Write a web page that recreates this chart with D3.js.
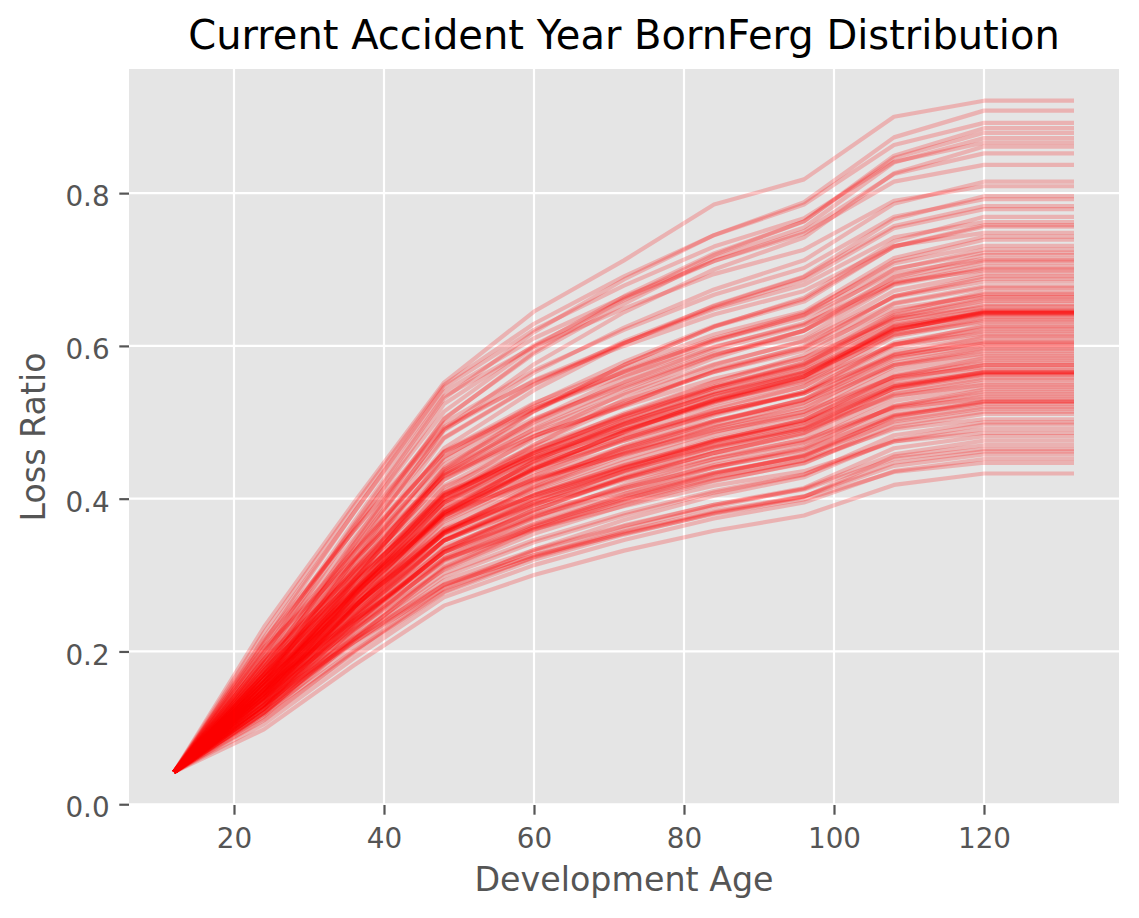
<!DOCTYPE html>
<html>
<head>
<meta charset="utf-8">
<script src="https://cdn.jsdelivr.net/npm/d3@7"></script>
<style>
  body { margin: 0; background: #fff; }
  svg { display: block; font-family: "DejaVu Sans", sans-serif; }
</style>
</head>
<body>
<div id="chart"></div>
<script>
// development ages (months) and the common starting loss ratio
const ages = [12, 24, 36, 48, 60, 72, 84, 96, 108, 120, 132];
const startRatio = 0.042;

// simulated loss ratio paths, values at ages 24..132
const simPaths = [
    [0.232, 0.395, 0.552, 0.645, 0.712, 0.785, 0.818, 0.900, 0.921, 0.921],
    [0.195, 0.366, 0.531, 0.618, 0.687, 0.745, 0.788, 0.873, 0.908, 0.908],
    [0.225, 0.390, 0.549, 0.629, 0.691, 0.745, 0.785, 0.863, 0.892, 0.892],
    [0.170, 0.340, 0.504, 0.592, 0.662, 0.719, 0.763, 0.849, 0.885, 0.885],
    [0.205, 0.363, 0.514, 0.599, 0.665, 0.721, 0.763, 0.846, 0.879, 0.879],
    [0.212, 0.382, 0.546, 0.621, 0.679, 0.730, 0.767, 0.841, 0.866, 0.866],
    [0.160, 0.329, 0.491, 0.576, 0.644, 0.700, 0.742, 0.826, 0.861, 0.861],
    [0.190, 0.360, 0.524, 0.601, 0.660, 0.711, 0.750, 0.825, 0.852, 0.852],
    [0.218, 0.382, 0.540, 0.610, 0.664, 0.711, 0.747, 0.815, 0.837, 0.837],
    [0.175, 0.335, 0.489, 0.565, 0.624, 0.674, 0.712, 0.786, 0.815, 0.815],
    [0.200, 0.370, 0.534, 0.599, 0.649, 0.694, 0.726, 0.790, 0.809, 0.809],
    [0.165, 0.319, 0.466, 0.542, 0.603, 0.653, 0.691, 0.766, 0.796, 0.796],
    [0.210, 0.358, 0.499, 0.568, 0.621, 0.667, 0.702, 0.769, 0.792, 0.792],
    [0.155, 0.320, 0.479, 0.549, 0.604, 0.650, 0.686, 0.754, 0.779, 0.779],
    [0.140, 0.292, 0.438, 0.514, 0.575, 0.625, 0.663, 0.737, 0.769, 0.769],
    [0.198, 0.348, 0.491, 0.555, 0.604, 0.648, 0.680, 0.742, 0.762, 0.762],
    [0.170, 0.315, 0.454, 0.524, 0.579, 0.626, 0.661, 0.730, 0.756, 0.756],
    [0.215, 0.358, 0.494, 0.554, 0.600, 0.641, 0.672, 0.731, 0.748, 0.748],
    [0.150, 0.294, 0.432, 0.503, 0.559, 0.606, 0.641, 0.711, 0.739, 0.739],
    [0.185, 0.321, 0.450, 0.515, 0.567, 0.610, 0.643, 0.708, 0.731, 0.731],
    [0.160, 0.311, 0.455, 0.518, 0.566, 0.608, 0.640, 0.701, 0.722, 0.722],
    [0.130, 0.273, 0.410, 0.481, 0.538, 0.584, 0.620, 0.690, 0.719, 0.719],
    [0.200, 0.333, 0.461, 0.521, 0.566, 0.607, 0.637, 0.695, 0.714, 0.714],
    [0.165, 0.298, 0.425, 0.491, 0.543, 0.587, 0.620, 0.684, 0.709, 0.709],
    [0.145, 0.292, 0.433, 0.496, 0.546, 0.588, 0.620, 0.681, 0.704, 0.704],
    [0.190, 0.329, 0.461, 0.518, 0.561, 0.599, 0.628, 0.683, 0.699, 0.699],
    [0.155, 0.283, 0.404, 0.471, 0.523, 0.567, 0.600, 0.665, 0.691, 0.691],
    [0.175, 0.306, 0.431, 0.490, 0.536, 0.576, 0.606, 0.664, 0.684, 0.684],
    [0.135, 0.279, 0.417, 0.478, 0.525, 0.566, 0.597, 0.656, 0.678, 0.678],
    [0.145, 0.267, 0.382, 0.449, 0.502, 0.545, 0.578, 0.643, 0.671, 0.671],
    [0.182, 0.309, 0.430, 0.486, 0.528, 0.566, 0.594, 0.649, 0.666, 0.666],
    [0.158, 0.281, 0.397, 0.458, 0.506, 0.547, 0.578, 0.638, 0.661, 0.661],
    [0.170, 0.290, 0.403, 0.462, 0.508, 0.547, 0.576, 0.634, 0.655, 0.655],
    [0.205, 0.320, 0.429, 0.482, 0.521, 0.557, 0.584, 0.635, 0.650, 0.650],
    [0.140, 0.262, 0.377, 0.439, 0.488, 0.529, 0.560, 0.620, 0.645, 0.645],
    [0.152, 0.277, 0.395, 0.453, 0.498, 0.537, 0.566, 0.622, 0.643, 0.643],
    [0.165, 0.288, 0.404, 0.460, 0.503, 0.540, 0.568, 0.622, 0.641, 0.641],
    [0.125, 0.257, 0.382, 0.441, 0.487, 0.526, 0.556, 0.614, 0.636, 0.636],
    [0.190, 0.302, 0.407, 0.460, 0.500, 0.536, 0.563, 0.615, 0.631, 0.631],
    [0.130, 0.247, 0.357, 0.419, 0.469, 0.509, 0.540, 0.601, 0.627, 0.627],
    [0.160, 0.275, 0.383, 0.439, 0.482, 0.519, 0.547, 0.602, 0.622, 0.622],
    [0.175, 0.294, 0.407, 0.456, 0.494, 0.528, 0.553, 0.602, 0.616, 0.616],
    [0.145, 0.254, 0.357, 0.416, 0.463, 0.501, 0.530, 0.588, 0.611, 0.611],
    [0.150, 0.269, 0.382, 0.435, 0.476, 0.511, 0.538, 0.589, 0.607, 0.607],
    [0.138, 0.257, 0.370, 0.424, 0.466, 0.502, 0.529, 0.582, 0.601, 0.601],
    [0.165, 0.265, 0.358, 0.413, 0.457, 0.493, 0.521, 0.575, 0.596, 0.596],
    [0.178, 0.283, 0.381, 0.430, 0.468, 0.502, 0.526, 0.575, 0.590, 0.590],
    [0.120, 0.230, 0.333, 0.391, 0.437, 0.475, 0.503, 0.560, 0.584, 0.584],
    [0.142, 0.252, 0.355, 0.407, 0.448, 0.483, 0.509, 0.560, 0.578, 0.578],
    [0.170, 0.277, 0.378, 0.424, 0.459, 0.490, 0.514, 0.559, 0.572, 0.572],
    [0.130, 0.234, 0.331, 0.385, 0.428, 0.464, 0.491, 0.544, 0.566, 0.566],
    [0.155, 0.259, 0.356, 0.405, 0.443, 0.476, 0.501, 0.549, 0.565, 0.565],
    [0.125, 0.239, 0.346, 0.396, 0.436, 0.469, 0.495, 0.544, 0.562, 0.562],
    [0.148, 0.244, 0.334, 0.385, 0.426, 0.460, 0.486, 0.537, 0.556, 0.556],
    [0.160, 0.260, 0.354, 0.400, 0.435, 0.467, 0.490, 0.535, 0.549, 0.549],
    [0.115, 0.215, 0.310, 0.363, 0.406, 0.441, 0.468, 0.521, 0.543, 0.543],
    [0.135, 0.236, 0.330, 0.379, 0.416, 0.448, 0.473, 0.520, 0.537, 0.537],
    [0.165, 0.261, 0.350, 0.393, 0.426, 0.455, 0.477, 0.519, 0.531, 0.531],
    [0.120, 0.217, 0.308, 0.359, 0.399, 0.432, 0.457, 0.507, 0.527, 0.527],
    [0.140, 0.238, 0.330, 0.376, 0.411, 0.441, 0.464, 0.509, 0.524, 0.524],
    [0.128, 0.227, 0.319, 0.365, 0.401, 0.433, 0.456, 0.501, 0.518, 0.518],
    [0.145, 0.229, 0.307, 0.354, 0.391, 0.423, 0.447, 0.493, 0.511, 0.511],
    [0.150, 0.241, 0.325, 0.367, 0.400, 0.428, 0.450, 0.491, 0.504, 0.504],
    [0.110, 0.200, 0.283, 0.333, 0.372, 0.404, 0.428, 0.477, 0.497, 0.497],
    [0.130, 0.219, 0.302, 0.346, 0.381, 0.410, 0.432, 0.475, 0.491, 0.491],
    [0.155, 0.241, 0.321, 0.360, 0.390, 0.417, 0.436, 0.475, 0.486, 0.486],
    [0.118, 0.201, 0.278, 0.324, 0.360, 0.390, 0.413, 0.458, 0.476, 0.476],
    [0.125, 0.212, 0.293, 0.333, 0.365, 0.392, 0.412, 0.452, 0.465, 0.465],
    [0.135, 0.212, 0.282, 0.323, 0.355, 0.382, 0.403, 0.443, 0.458, 0.458],
    [0.105, 0.191, 0.271, 0.313, 0.346, 0.374, 0.395, 0.436, 0.452, 0.452],
    [0.140, 0.217, 0.288, 0.326, 0.354, 0.380, 0.399, 0.435, 0.447, 0.447],
    [0.098, 0.182, 0.260, 0.300, 0.332, 0.358, 0.378, 0.418, 0.433, 0.433],
    [0.170, 0.307, 0.438, 0.502, 0.552, 0.595, 0.627, 0.689, 0.712, 0.712],
    [0.148, 0.278, 0.401, 0.463, 0.512, 0.553, 0.584, 0.645, 0.668, 0.668],
    [0.160, 0.287, 0.408, 0.464, 0.507, 0.545, 0.573, 0.628, 0.647, 0.647],
    [0.145, 0.273, 0.395, 0.453, 0.498, 0.536, 0.565, 0.621, 0.642, 0.642],
    [0.168, 0.276, 0.377, 0.439, 0.488, 0.528, 0.559, 0.620, 0.644, 0.644],
    [0.155, 0.275, 0.389, 0.440, 0.478, 0.513, 0.538, 0.587, 0.603, 0.603],
    [0.138, 0.245, 0.345, 0.398, 0.440, 0.476, 0.503, 0.555, 0.575, 0.575],
    [0.148, 0.255, 0.355, 0.404, 0.441, 0.474, 0.499, 0.547, 0.563, 0.563],
    [0.180, 0.318, 0.445, 0.505, 0.548, 0.590, 0.612, 0.680, 0.701, 0.701],
    [0.150, 0.280, 0.400, 0.470, 0.530, 0.575, 0.607, 0.672, 0.695, 0.695],
    [0.165, 0.300, 0.425, 0.482, 0.522, 0.570, 0.598, 0.665, 0.688, 0.688],
    [0.140, 0.272, 0.395, 0.460, 0.510, 0.552, 0.588, 0.655, 0.676, 0.676],
    [0.185, 0.305, 0.415, 0.468, 0.510, 0.545, 0.575, 0.640, 0.664, 0.664],
    [0.150, 0.270, 0.380, 0.450, 0.497, 0.540, 0.572, 0.637, 0.659, 0.659],
    [0.130, 0.262, 0.385, 0.448, 0.492, 0.533, 0.565, 0.630, 0.652, 0.652],
    [0.175, 0.295, 0.405, 0.455, 0.497, 0.530, 0.560, 0.626, 0.646, 0.646],
    [0.160, 0.280, 0.390, 0.446, 0.490, 0.527, 0.558, 0.624, 0.644, 0.644],
    [0.145, 0.268, 0.378, 0.440, 0.487, 0.530, 0.560, 0.625, 0.643, 0.643],
    [0.170, 0.290, 0.400, 0.452, 0.490, 0.524, 0.552, 0.617, 0.638, 0.638],
    [0.135, 0.258, 0.372, 0.430, 0.478, 0.516, 0.547, 0.612, 0.633, 0.633],
    [0.155, 0.275, 0.385, 0.437, 0.476, 0.512, 0.540, 0.604, 0.625, 0.625],
    [0.180, 0.293, 0.395, 0.445, 0.482, 0.513, 0.538, 0.598, 0.619, 0.619],
    [0.140, 0.258, 0.365, 0.422, 0.466, 0.500, 0.530, 0.592, 0.613, 0.613],
    [0.125, 0.245, 0.355, 0.415, 0.460, 0.496, 0.525, 0.585, 0.605, 0.605],
    [0.160, 0.272, 0.375, 0.426, 0.462, 0.494, 0.518, 0.578, 0.598, 0.598],
    [0.145, 0.258, 0.360, 0.412, 0.452, 0.487, 0.514, 0.573, 0.593, 0.593],
    [0.170, 0.280, 0.380, 0.425, 0.458, 0.488, 0.510, 0.568, 0.587, 0.587],
    [0.130, 0.243, 0.345, 0.400, 0.442, 0.478, 0.503, 0.562, 0.581, 0.581],
    [0.150, 0.258, 0.355, 0.405, 0.444, 0.475, 0.498, 0.556, 0.575, 0.575],
    [0.138, 0.247, 0.345, 0.395, 0.436, 0.468, 0.492, 0.550, 0.569, 0.569],
    [0.160, 0.265, 0.360, 0.404, 0.440, 0.470, 0.492, 0.547, 0.566, 0.566],
    [0.125, 0.235, 0.335, 0.385, 0.427, 0.460, 0.486, 0.545, 0.564, 0.564],
    [0.145, 0.250, 0.345, 0.392, 0.430, 0.460, 0.484, 0.540, 0.558, 0.558],
    [0.118, 0.225, 0.322, 0.375, 0.418, 0.452, 0.478, 0.534, 0.552, 0.552],
    [0.155, 0.255, 0.345, 0.390, 0.424, 0.452, 0.474, 0.528, 0.546, 0.546],
    [0.135, 0.237, 0.330, 0.377, 0.413, 0.444, 0.466, 0.522, 0.540, 0.540],
    [0.150, 0.248, 0.338, 0.382, 0.414, 0.442, 0.462, 0.516, 0.534, 0.534],
    [0.128, 0.228, 0.320, 0.367, 0.403, 0.434, 0.456, 0.510, 0.528, 0.528],
    [0.142, 0.240, 0.330, 0.373, 0.406, 0.434, 0.455, 0.508, 0.526, 0.526],
    [0.120, 0.220, 0.312, 0.360, 0.396, 0.427, 0.450, 0.503, 0.520, 0.520],
    [0.138, 0.232, 0.318, 0.362, 0.395, 0.424, 0.446, 0.497, 0.514, 0.514],
    [0.125, 0.215, 0.298, 0.343, 0.378, 0.408, 0.431, 0.483, 0.500, 0.500],
    [0.120, 0.207, 0.287, 0.331, 0.364, 0.392, 0.414, 0.466, 0.482, 0.482],
    [0.112, 0.198, 0.277, 0.320, 0.353, 0.381, 0.402, 0.455, 0.470, 0.470],
    [0.130, 0.213, 0.287, 0.326, 0.357, 0.384, 0.403, 0.447, 0.462, 0.462],
    [0.150, 0.300, 0.440, 0.515, 0.575, 0.625, 0.658, 0.730, 0.758, 0.758],
    [0.185, 0.330, 0.462, 0.525, 0.572, 0.615, 0.645, 0.715, 0.743, 0.743],
    [0.160, 0.305, 0.435, 0.500, 0.553, 0.598, 0.630, 0.700, 0.726, 0.726],
    [0.190, 0.340, 0.480, 0.550, 0.606, 0.652, 0.690, 0.757, 0.783, 0.783],
    [0.178, 0.345, 0.505, 0.590, 0.655, 0.715, 0.755, 0.840, 0.872, 0.872]
];

const xTicks = [20, 40, 60, 80, 100, 120];
const yTicks = [0.0, 0.2, 0.4, 0.6, 0.8];

const width = 1139;
const height = 918;
const plot = { left: 129, right: 1119, top: 69, bottom: 805 };

const svg = d3.select('#chart')
    .append('svg')
    .attr('width', width)
    .attr('height', height);

const xScale = d3.scaleLinear()
    .domain([6, 138])
    .range([plot.left, plot.right]);

const yScale = d3.scaleLinear()
    .domain([-0.001, 0.9625])
    .range([plot.bottom, plot.top]);

// panel background
svg.append('rect')
    .attr('x', plot.left)
    .attr('y', plot.top)
    .attr('width', plot.right - plot.left)
    .attr('height', plot.bottom - plot.top)
    .attr('fill', '#e5e5e5');

// grid
svg.append('g')
    .selectAll('line')
    .data(xTicks)
    .join('line')
    .attr('x1', d => xScale(d))
    .attr('x2', d => xScale(d))
    .attr('y1', plot.top)
    .attr('y2', plot.bottom)
    .attr('stroke', '#fff')
    .attr('stroke-width', 2.2);

svg.append('g')
    .selectAll('line')
    .data(yTicks)
    .join('line')
    .attr('x1', plot.left)
    .attr('x2', plot.right)
    .attr('y1', d => yScale(d))
    .attr('y2', d => yScale(d))
    .attr('stroke', '#fff')
    .attr('stroke-width', 2.2);

// simulated paths
const line = d3.line()
    .x((d, i) => xScale(ages[i]))
    .y(d => yScale(d));

svg.append('g')
    .selectAll('path')
    .data(simPaths.map(p => [startRatio].concat(p)))
    .join('path')
    .attr('d', line)
    .attr('fill', 'none')
    .attr('stroke', '#ff0000')
    .attr('stroke-opacity', 0.22)
    .attr('stroke-width', 4.2)
    .attr('stroke-linejoin', 'round');

// axes
const xAxis = d3.axisBottom(xScale)
    .tickValues(xTicks)
    .tickSize(9.7)
    .tickPadding(9.7)
    .tickFormat(d3.format('d'));

const yAxis = d3.axisLeft(yScale)
    .tickValues(yTicks)
    .tickSize(9.7)
    .tickPadding(9.7)
    .tickFormat(d3.format('.1f'));

const gx = svg.append('g')
    .attr('transform', `translate(0, ${plot.bottom})`)
    .call(xAxis);

const gy = svg.append('g')
    .attr('transform', `translate(${plot.left}, 0)`)
    .call(yAxis);

[gx, gy].forEach(g => {
    g.select('.domain').remove();
    g.selectAll('.tick line').attr('stroke', '#555555').attr('stroke-width', 2.2);
    g.selectAll('.tick text')
        .attr('fill', '#555555')
        .style('font-family', '"DejaVu Sans", sans-serif')
        .style('font-size', '27.8px');
});
gx.selectAll('.tick text').attr('dy', '0.84em');
gy.selectAll('.tick text').attr('dy', '0.457em');

// labels
svg.append('text')
    .attr('x', (plot.left + plot.right) / 2)
    .attr('y', 49)
    .attr('text-anchor', 'middle')
    .attr('fill', '#000')
    .style('font-size', '40px')
    .text('Current Accident Year BornFerg Distribution');

svg.append('text')
    .attr('x', (plot.left + plot.right) / 2)
    .attr('y', 890.5)
    .attr('text-anchor', 'middle')
    .attr('fill', '#555555')
    .style('font-size', '33.3px')
    .text('Development Age');

svg.append('text')
    .attr('transform', `translate(45, ${(plot.top + plot.bottom) / 2}) rotate(-90)`)
    .attr('text-anchor', 'middle')
    .attr('fill', '#555555')
    .style('font-size', '33.3px')
    .text('Loss Ratio');
</script>
</body>
</html>
